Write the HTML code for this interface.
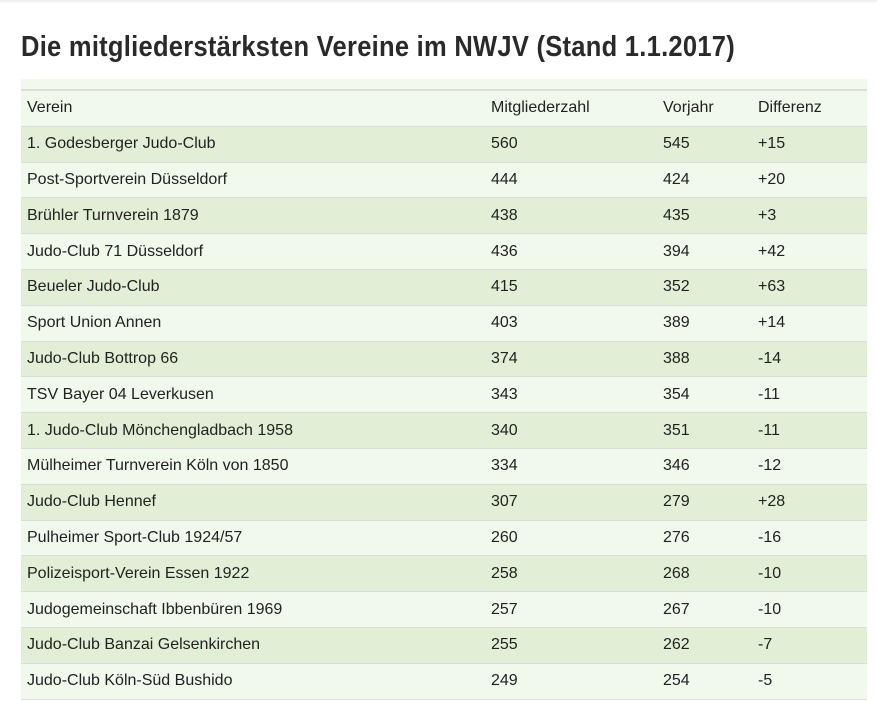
<!DOCTYPE html>
<html><head><meta charset="utf-8">
<style>
body{margin:0;width:877px;height:701px;background:#fff;overflow:hidden;font-family:"Liberation Sans",Arial,sans-serif;color:#222;position:relative}
.topbar{position:absolute;left:0;top:0;width:877px;height:4px;background:linear-gradient(#ececec,#fff)}
h1{position:absolute;left:21px;top:31px;margin:0;font-family:"Liberation Sans Narrow","Liberation Sans",sans-serif;font-weight:bold;font-size:29px;color:#2a2a2a;white-space:nowrap;letter-spacing:0.3px;transform:scaleX(0.88);transform-origin:0 0}
.band{position:absolute;left:21px;top:79px;width:846px;height:10px;background:#f1f8ec;border-bottom:2px solid #dcdcdc}
table{position:absolute;left:21px;top:91px;width:846px;border-collapse:collapse;font-size:16px}
td{height:34.8px;padding:0 0 0 6px;border-bottom:1px solid #dcdcdc;vertical-align:middle}
tr:nth-child(odd){background:#f1f8ec}
tr:nth-child(even){background:#e2efd6}
td:nth-child(1){width:458px}td:nth-child(2){width:166px}td:nth-child(3){width:89px}
</style></head><body>
<div class="topbar"></div>
<h1>Die mitgliederstärksten Vereine im NWJV (Stand 1.1.2017)</h1>
<div class="band"></div>
<table>
<tr><td>Verein</td><td>Mitgliederzahl</td><td>Vorjahr</td><td>Differenz</td></tr>
<tr><td>1. Godesberger Judo-Club</td><td>560</td><td>545</td><td>+15</td></tr>
<tr><td>Post-Sportverein Düsseldorf</td><td>444</td><td>424</td><td>+20</td></tr>
<tr><td>Brühler Turnverein 1879</td><td>438</td><td>435</td><td>+3</td></tr>
<tr><td>Judo-Club 71 Düsseldorf</td><td>436</td><td>394</td><td>+42</td></tr>
<tr><td>Beueler Judo-Club</td><td>415</td><td>352</td><td>+63</td></tr>
<tr><td>Sport Union Annen</td><td>403</td><td>389</td><td>+14</td></tr>
<tr><td>Judo-Club Bottrop 66</td><td>374</td><td>388</td><td>-14</td></tr>
<tr><td>TSV Bayer 04 Leverkusen</td><td>343</td><td>354</td><td>-11</td></tr>
<tr><td>1. Judo-Club Mönchengladbach 1958</td><td>340</td><td>351</td><td>-11</td></tr>
<tr><td>Mülheimer Turnverein Köln von 1850</td><td>334</td><td>346</td><td>-12</td></tr>
<tr><td>Judo-Club Hennef</td><td>307</td><td>279</td><td>+28</td></tr>
<tr><td>Pulheimer Sport-Club 1924/57</td><td>260</td><td>276</td><td>-16</td></tr>
<tr><td>Polizeisport-Verein Essen 1922</td><td>258</td><td>268</td><td>-10</td></tr>
<tr><td>Judogemeinschaft Ibbenbüren 1969</td><td>257</td><td>267</td><td>-10</td></tr>
<tr><td>Judo-Club Banzai Gelsenkirchen</td><td>255</td><td>262</td><td>-7</td></tr>
<tr><td>Judo-Club Köln-Süd Bushido</td><td>249</td><td>254</td><td>-5</td></tr>
</table>
</body></html>
